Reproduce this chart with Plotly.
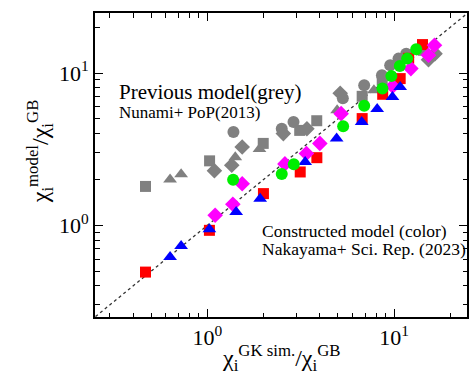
import plotly.graph_objects as go

# ---- data ----
grey_sq_x = [0.466, 1.027, 1.99, 3.12, 3.85, 6.74, 8.63, 14.3]
grey_sq_y = [1.80, 2.65, 3.45, 4.20, 4.86, 7.03, 8.96, 14.1]
grey_tri_x = [0.631, 0.723, 1.41, 1.90, 4.95, 7.79]
grey_tri_y = [2.00, 2.16, 2.80, 3.17, 5.69, 7.70]
grey_dia_x = [1.09, 1.35, 1.535, 2.55, 3.41, 5.14, 15.27, 16.55]
grey_dia_y = [2.28, 2.48, 3.27, 4.00, 4.31, 7.36, 12.24, 13.4]
grey_cir_x = [1.378, 2.50, 2.89, 5.31, 6.91, 8.60, 9.52, 10.55, 11.6]
grey_cir_y = [4.10, 4.31, 4.77, 6.82, 8.30, 9.66, 11.23, 12.43, 13.4]

red_x = [0.466, 1.025, 1.995, 3.14, 3.855, 6.74, 8.68, 10.77, 11.96, 14.18]
red_y = [0.493, 0.927, 1.615, 2.24, 2.78, 5.02, 7.25, 9.19, 12.49, 15.37]
blue_x = [0.631, 0.723, 1.025, 1.425, 1.916, 3.337, 4.92, 6.70, 8.11, 9.79, 10.77]
blue_y = [0.619, 0.731, 0.941, 1.223, 1.497, 2.60, 3.71, 4.77, 5.80, 6.95, 8.09]
mag_x = [1.10, 1.368, 1.535, 2.60, 3.39, 4.00, 5.20, 9.82, 12.29, 15.27, 16.44]
mag_y = [1.163, 1.374, 1.873, 2.53, 2.96, 3.45, 5.41, 8.18, 10.69, 13.07, 15.2]
green_x = [1.373, 2.50, 2.90, 5.33, 6.91, 8.65, 9.66, 10.72, 11.74, 13.12]
green_y = [1.99, 2.17, 2.52, 4.47, 6.09, 7.90, 9.54, 11.12, 12.43, 14.3]

diag = [0.2, 30]

major_vals = [1, 10]
major_text = ["10<sup>0</sup>", "10<sup>1</sup>"]
minor_vals = [0.3, 0.4, 0.5, 0.6, 0.7, 0.8, 0.9, 2, 3, 4, 5, 6, 7, 8, 9, 20]

FONT = "Times New Roman, Liberation Serif, serif"
GREY = "#808080"

fig = go.Figure()

fig.add_trace(go.Scatter(x=diag, y=diag, mode="lines",
                         line=dict(color="#333333", width=1.3, dash="dot"),
                         hoverinfo="skip"))

def add(x, y, sym, color, size):
    fig.add_trace(go.Scatter(x=x, y=y, mode="markers",
                             marker=dict(symbol=sym, color=color, size=size,
                                         line=dict(width=0))))

add(grey_sq_x, grey_sq_y, "square", GREY, 11)
add(grey_tri_x, grey_tri_y, "triangle-up", GREY, 12)
add(grey_dia_x, grey_dia_y, "diamond", GREY, 12)
add(grey_cir_x, grey_cir_y, "circle", GREY, 12)

add(red_x, red_y, "square", "#ff0000", 11)
add(mag_x, mag_y, "diamond", "#ff00ff", 12)
add(blue_x, blue_y, "triangle-up", "#0000ff", 12)
add(green_x, green_y, "circle", "#00ee00", 12)

axis_common = dict(
    type="log", automargin=False,
    showgrid=False, zeroline=False,
    showline=True, linecolor="black", linewidth=2, mirror="allticks",
    ticks="inside", ticklen=8, tickwidth=1.2, tickcolor="black",
    tickmode="array", tickvals=major_vals, ticktext=major_text,
    tickfont=dict(family=FONT, size=22, color="black"),
    minor=dict(ticks="inside", ticklen=4.5, tickwidth=1.2, tickcolor="black",
               tickvals=minor_vals, showgrid=False),
)

fig.update_layout(
    width=470, height=381,
    margin=dict(l=95, r=3, t=13, b=64),
    paper_bgcolor="white", plot_bgcolor="white",
    showlegend=False,
    xaxis=dict(range=[-0.602, 1.39], **axis_common),
    yaxis=dict(range=[-0.602, 1.394], **axis_common),
    font=dict(family=FONT, color="black"),
)

ann = [
    dict(text="Previous model(grey)", x=0.058, y=0.739, size=21),
    dict(text="Nunami+ PoP(2013)", x=0.058, y=0.672, size=17),
    dict(text="Constructed model (color)", x=0.443, y=0.284, size=17.5),
    dict(text="Nakayama+ Sci. Rep. (2023)", x=0.443, y=0.224, size=17.5),
]
for a in ann:
    fig.add_annotation(text=a["text"], x=a["x"], y=a["y"], xref="paper", yref="paper",
                       xanchor="left", yanchor="middle", showarrow=False,
                       font=dict(family=FONT, size=a["size"], color="black"))

fig.add_annotation(text="χ<sub>i</sub><sup>GK sim.</sup>/χ<sub>i</sub><sup>GB</sup>",
                   x=0.5, y=-0.136, xref="paper", yref="paper",
                   xanchor="center", yanchor="middle", showarrow=False,
                   font=dict(family=FONT, size=24, color="black"))
fig.add_annotation(text="χ<sub>i</sub><sup>model</sup>/χ<sub>i</sub><sup>GB</sup>",
                   x=-0.148, y=0.545, xref="paper", yref="paper",
                   xanchor="center", yanchor="middle", showarrow=False, textangle=-90,
                   font=dict(family=FONT, size=24, color="black"))

fig.write_html("out.html", config={"displayModeBar": False},
               post_script="document.body.style.margin='0';document.body.style.overflow='hidden';")
